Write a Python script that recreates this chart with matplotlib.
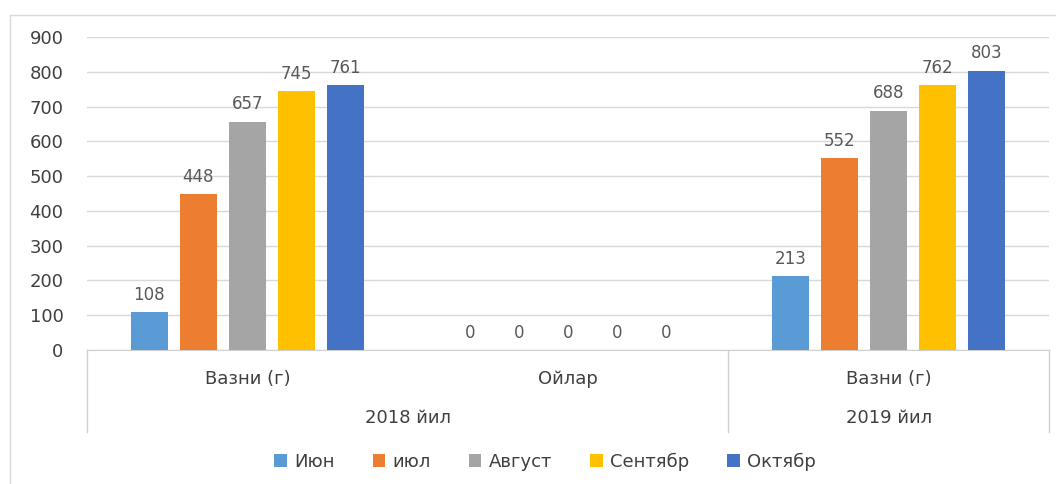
import matplotlib.pyplot as plt
import numpy as np

# categories on the two axis levels
categories = ["Вазни (г)", "Ойлар", "Вазни (г)"]
years = ["2018 йил", "2019 йил"]
months = ["Июн", "июл", "Август", "Сентябр", "Октябр"]

# values per month for each category
jun = [108, 0, 213]
jul = [448, 0, 552]
aug = [657, 0, 688]
sep = [745, 0, 762]
octo = [761, 0, 803]

colors = ["#5B9BD5", "#ED7D31", "#A5A5A5", "#FFC000", "#4472C4"]
series = [jun, jul, aug, sep, octo]

fig = plt.figure(figsize=(10.59, 4.84), dpi=100)
ax = fig.add_axes([87/1059, 1-350/484, (1049-87)/1059, 313/484])

x = np.arange(len(categories))
width = 0.115
pitch = 0.153
for i, (vals, c, name) in enumerate(zip(series, colors, months)):
    pos = x + (i - 2) * pitch
    bars = ax.bar(pos, vals, width, color=c, label=name, zorder=3)
    for b, v in zip(bars, vals):
        ax.annotate(str(v), (b.get_x() + b.get_width()/2, v),
                    xytext=(0, 6), textcoords="offset points",
                    ha="center", va="bottom", fontsize=12, color="#595959")

ax.set_xlim(-0.5, 2.5)
ax.set_ylim(0, 900)
ax.set_yticks(range(0, 901, 100))
ax.tick_params(axis="y", length=0, pad=17, labelsize=13, labelcolor="#404040")
ax.set_xticks([])
ax.grid(axis="y", color="#D9D9D9", linewidth=1, zorder=0)
for s in ["top", "right", "left"]:
    ax.spines[s].set_visible(False)
ax.spines["bottom"].set_color("#D0D0D0")

# two-level category axis
tr = ax.get_xaxis_transform()
for xv in [-0.5, 1.5, 2.5]:
    ax.plot([xv, xv], [0, -0.262], transform=tr, color="#D0D0D0",
            linewidth=1, clip_on=False)
for xv, lab in zip(x, categories):
    ax.text(xv, -0.093, lab, transform=tr, ha="center", va="center",
            fontsize=13, color="#404040")
ax.text(0.5, -0.217, years[0], transform=tr, ha="center", va="center",
        fontsize=13, color="#404040")
ax.text(2, -0.217, years[1], transform=tr, ha="center", va="center",
        fontsize=13, color="#404040")

# chart frame
fig.add_artist(plt.Line2D([10/1059, 1055/1059], [1-15/484, 1-15/484],
                          color="#D9D9D9", linewidth=1))
fig.add_artist(plt.Line2D([10/1059, 10/1059], [0, 1-15/484],
                          color="#D9D9D9", linewidth=1))

fig.legend(loc="center", bbox_to_anchor=(545/1059, 1-462/484), ncol=5,
           frameon=False, fontsize=13, labelcolor="#404040",
           handlelength=0.7, handleheight=0.7, handletextpad=0.4,
           columnspacing=2.1)

fig.savefig("out.png", dpi=100)
